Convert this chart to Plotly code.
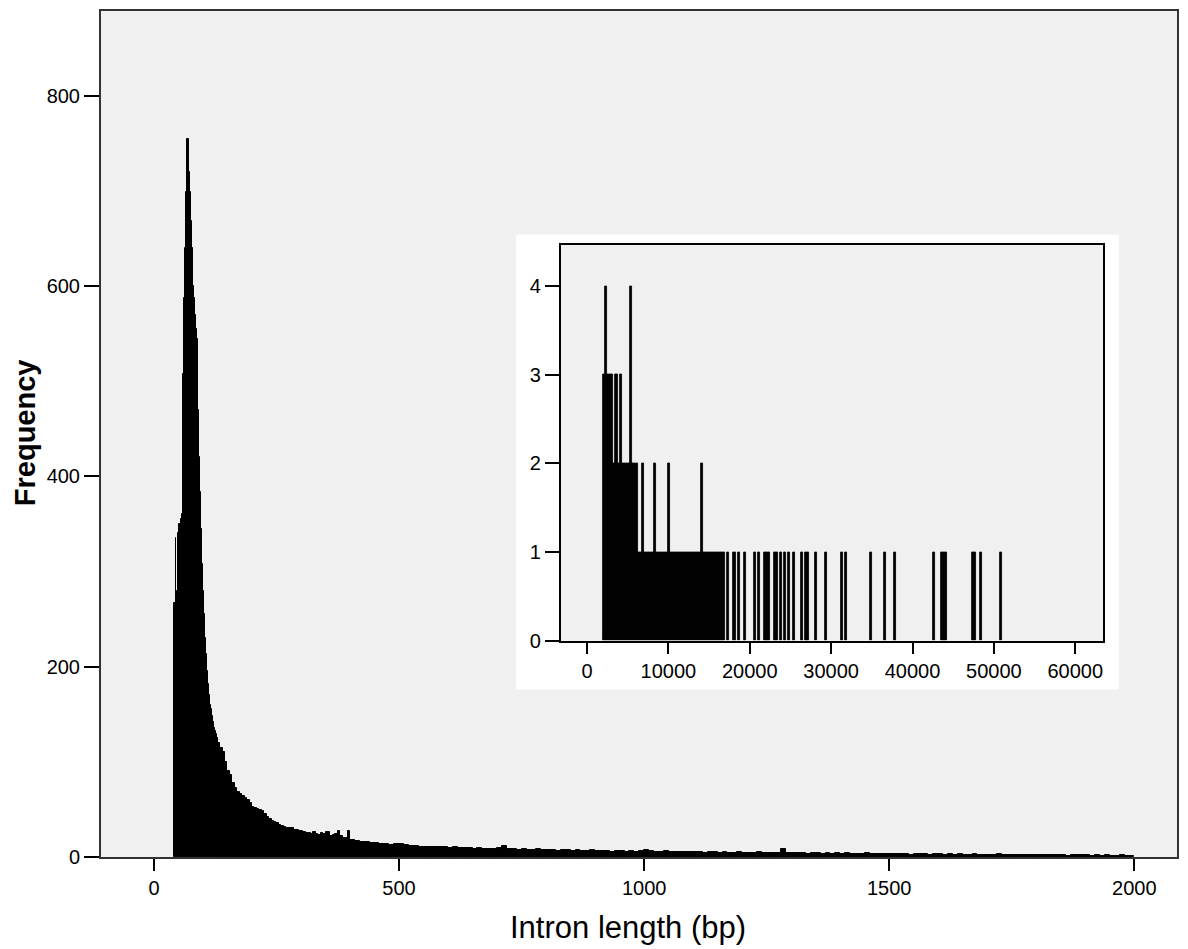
import plotly.graph_objects as go

# ---------------- main histogram (intron length, bp) ----------------
# three bin segments: (first bin start, bin width) + counts per bin
seg_a_start, seg_a_width = 40, 2
counts_a = [267, 267, 335, 280, 237, 340, 350, 350, 355, 360,
            508, 587, 640, 699, 754, 754, 720, 699, 668, 640,
            600, 587, 570, 555, 544, 470, 420, 384, 345, 308,
            280, 255, 230, 213, 195, 182, 170, 160, 156, 148,
            142, 136, 132, 129, 125]

seg_b_start, seg_b_width = 130, 5
counts_b = [120, 115, 110, 100, 90, 86, 78, 72, 68, 66,
            64, 62, 60, 57, 53, 52, 50, 49, 48, 45,
            42, 40, 38, 37, 36, 34, 33, 32, 31, 31,
            30, 28, 28, 27, 27, 26, 25, 25, 24, 26,
            24, 23, 25, 24, 26, 26, 22, 23, 24, 27,
            22, 20, 20, 27]

seg_c_start, seg_c_width = 400, 10
counts_c = [18, 17, 16, 16, 15, 15, 14, 14, 13, 14,
            14, 13, 12, 12, 11, 11, 11, 10, 10, 10,
            9, 10, 9, 9, 9, 8, 9, 8, 8, 8,
            9, 12, 8, 8, 7, 8, 7, 7, 8, 7,
            7, 7, 6, 7, 7, 6, 7, 6, 6, 7,
            6, 6, 6, 5, 6, 6, 5, 6, 5, 6,
            7, 6, 5, 5, 6, 5, 5, 5, 5, 5,
            5, 5, 4, 5, 5, 4, 5, 4, 4, 5,
            4, 4, 4, 5, 4, 4, 4, 4, 8, 4,
            4, 4, 4, 3, 4, 4, 3, 4, 3, 4,
            3, 4, 3, 3, 3, 4, 3, 3, 3, 3,
            3, 3, 3, 3, 2, 3, 3, 3, 2, 3,
            3, 2, 3, 2, 3, 2, 2, 3, 2, 2,
            2, 2, 3, 2, 2, 2, 2, 2, 2, 2,
            2, 2, 2, 2, 2, 2, 1, 2, 2, 2,
            2, 1, 2, 1, 2, 1, 1, 2, 1, 1]

main_x_ticks = [0, 500, 1000, 1500, 2000]
main_y_ticks = [0, 200, 400, 600, 800]

# ---------------- inset histogram (long introns) ----------------
inset_bin_width = 250
inset_bin_starts = [2000, 2250, 2500, 2750, 3000, 3250, 3500, 3750, 4000, 4250,
                    4500, 4750, 5000, 5250, 5500, 5750, 6000, 6250, 6500, 6750,
                    7000, 7250, 7500, 7750, 8000, 8250, 8500, 8750, 9000, 9250,
                    9500, 9750, 10000, 10250, 10500, 10750, 11000, 11250, 11500, 11750,
                    12000, 12250, 12500, 12750, 13000, 13250, 13500, 13750, 14000, 14250,
                    14500, 14750, 15000, 15250, 15500, 15750, 16000, 16250, 16500, 16750,
                    17250, 18000, 18500, 19250, 20500, 21000, 21750, 22000, 22250, 23000,
                    23250, 23750, 24250, 24750, 25250, 26250, 26750, 27000, 28000, 29250,
                    31250, 31750, 34750, 36500, 37750, 42500, 43500, 43750, 44000, 47250,
                    47500, 48250, 50750]
inset_counts = [3, 4, 3, 3, 3, 2, 3, 2, 3, 2,
                2, 2, 2, 4, 2, 2, 2, 1, 1, 2,
                1, 1, 1, 1, 1, 2, 1, 1, 1, 1,
                1, 1, 2, 1, 1, 1, 1, 1, 1, 1,
                1, 1, 1, 1, 1, 1, 1, 1, 2, 1,
                1, 1, 1, 1, 1, 1, 1, 1, 1, 1,
                1, 1, 1, 1, 1, 1, 1, 1, 1, 1,
                1, 1, 1, 1, 1, 1, 1, 1, 1, 1,
                1, 1, 1, 1, 1, 1, 1, 1, 1, 1,
                1, 1, 1]
inset_x_ticks = [0, 10000, 20000, 30000, 40000, 50000, 60000]
inset_y_ticks = [0, 1, 2, 3, 4]

x_title = "Intron length (bp)"
y_title = "Frequency"

# ---------------- build bars ----------------
main_x, main_w, main_y = [], [], []
for start, width, counts in [(seg_a_start, seg_a_width, counts_a),
                             (seg_b_start, seg_b_width, counts_b),
                             (seg_c_start, seg_c_width, counts_c)]:
    for i, c in enumerate(counts):
        main_x.append(start + width * i + width / 2)
        main_w.append(width)
        main_y.append(c)

inset_x = [s + inset_bin_width / 2 for s in inset_bin_starts]

fig = go.Figure()
fig.add_trace(go.Bar(x=main_x, y=main_y, width=main_w,
                     marker=dict(color="black", line=dict(color="black", width=1.0)),
                     xaxis="x", yaxis="y", hoverinfo="x+y"))
fig.add_trace(go.Bar(x=inset_x, y=inset_counts, width=[inset_bin_width] * len(inset_x),
                     marker=dict(color="black", line=dict(color="black", width=0.8)),
                     xaxis="x2", yaxis="y2", hoverinfo="x+y"))

FONT = "Liberation Sans, Arial, Helvetica, sans-serif"

axis_common = dict(showgrid=False, zeroline=False, ticks="outside", tickcolor="black",
                   tickwidth=2, showline=True, linewidth=2, mirror=True,
                   tickfont=dict(family=FONT, size=20, color="black"))

fig.update_layout(
    width=1188, height=949,
    margin=dict(l=101, r=11, t=9, b=92),
    paper_bgcolor="white", plot_bgcolor="#f0f0f0",
    showlegend=False, bargap=0,
    font=dict(family=FONT, size=20, color="black"),
    xaxis=dict(domain=[0, 1], anchor="y", range=[-108, 2087], tickvals=main_x_ticks,
               tickformat="d", ticklen=12, linecolor="#333333", **axis_common),
    yaxis=dict(domain=[0, 1], anchor="x", range=[0, 889], tickvals=main_y_ticks,
               tickformat="d", ticklen=15, linecolor="#333333", **axis_common),
    xaxis2=dict(domain=[0.4275, 0.9312], anchor="y2", range=[-3195, 63400],
                tickvals=inset_x_ticks, tickformat="d", ticklen=11, linecolor="black",
                **axis_common),
    yaxis2=dict(domain=[0.2559, 0.7229], anchor="x2", range=[0, 4.46],
                tickvals=inset_y_ticks, tickformat="d", ticklen=14, linecolor="black",
                **axis_common),
    shapes=[
        dict(type="rect", xref="paper", yref="paper", x0=0.3857, x1=0.9461,
             y0=0.1981, y1=0.7358, fillcolor="white", line=dict(width=0), layer="below"),
        dict(type="rect", xref="x2 domain", yref="y2 domain", x0=0, x1=1, y0=0, y1=1,
             fillcolor="#f0f0f0", line=dict(width=0), layer="below"),
    ],
    annotations=[
        dict(text=x_title, xref="paper", yref="paper", x=0.49, y=-0.0837,
             xanchor="center", yanchor="middle", showarrow=False,
             font=dict(family=FONT, size=31, color="black")),
        dict(text="<b>" + y_title + "</b>", xref="paper", yref="paper", x=-0.0706, y=0.501,
             xanchor="center", yanchor="middle", textangle=-90, showarrow=False,
             font=dict(family=FONT, size=29, color="black")),
    ],
)

fig.write_html("out.html")
